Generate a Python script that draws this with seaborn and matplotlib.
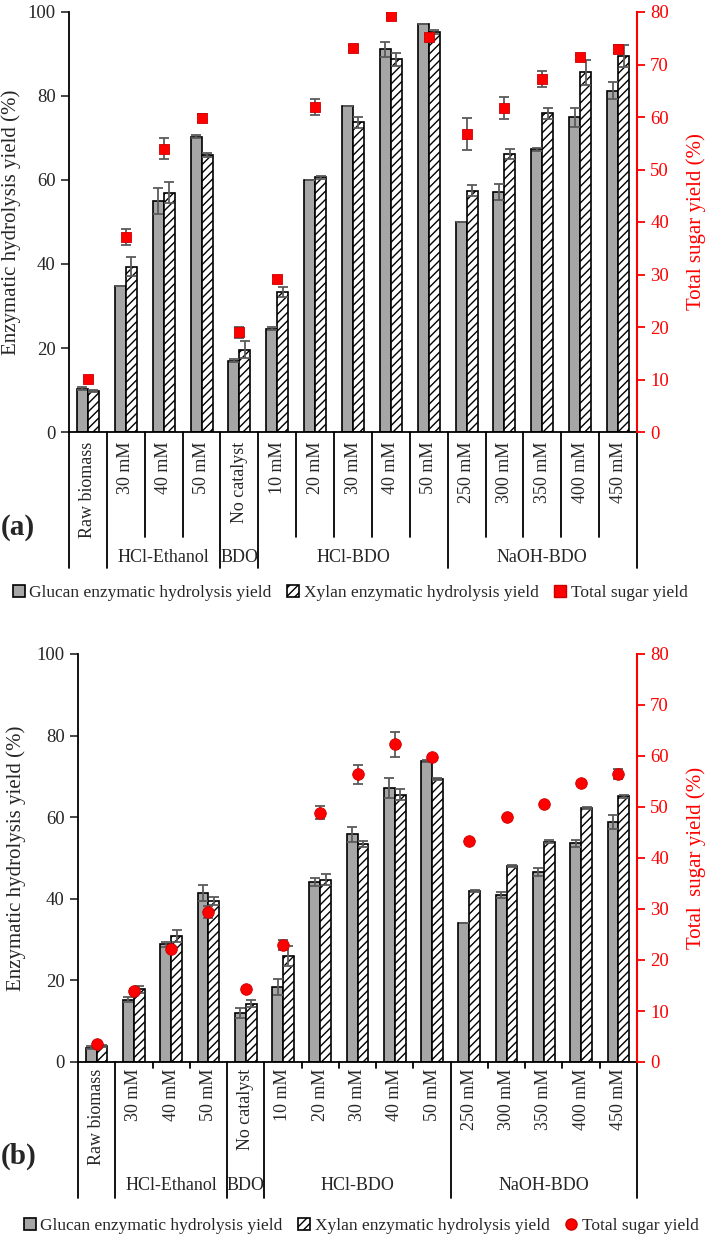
import numpy as np
import pandas as pd
import matplotlib
matplotlib.use("Agg")
import matplotlib.pyplot as plt
import seaborn as sns
from matplotlib.patches import Patch
from matplotlib.lines import Line2D

# categories and groups
categories = ["Raw biomass", "30 mM", "40 mM", "50 mM", "No catalyst",
              "10 mM", "20 mM", "30 mM", "40 mM", "50 mM",
              "250 mM", "300 mM", "350 mM", "400 mM", "450 mM"]
group_names = ["HCl-Ethanol", "BDO", "HCl-BDO", "NaOH-BDO"]
group_first = [1, 4, 5, 10]
group_last = [3, 4, 9, 14]

# panel (a)
glucan_a = [10.3, 34.8, 55.0, 70.3, 17.0, 24.6, 60.0, 77.6, 91.1, 97.1, 50.0, 57.1, 67.3, 74.9, 81.3]
glucan_a_err = [0.3, 0.0, 3.2, 0.3, 0.3, 0.3, 0.0, 0.0, 1.8, 0.0, 0.0, 1.9, 0.3, 2.2, 2.1]
xylan_a = [9.8, 39.4, 57.0, 66.0, 19.6, 33.4, 60.6, 73.7, 88.7, 95.2, 57.5, 66.2, 75.9, 85.6, 89.6]
xylan_a_err = [0.3, 2.3, 2.5, 0.5, 2.0, 1.2, 0.3, 1.3, 1.5, 0.5, 1.4, 1.2, 1.3, 3.0, 2.6]
sugar_a = [10.1, 37.2, 54.0, 59.8, 19.0, 29.1, 61.9, 73.1, 79.3, 75.3, 56.8, 61.7, 67.3, 71.4, 72.9]
sugar_a_err = [0.3, 1.5, 2.0, 0.8, 1.0, 0.7, 1.5, 0.5, 0.5, 0.5, 3.1, 2.1, 1.5, 0.5, 0.8]

# panel (b)
glucan_b = [3.5, 15.3, 28.8, 41.5, 12.1, 18.4, 44.1, 55.8, 67.1, 73.8, 34.1, 40.9, 46.6, 53.6, 58.9]
glucan_b_err = [0.3, 0.6, 0.7, 2.0, 1.2, 2.0, 1.0, 1.8, 2.4, 0.3, 0.0, 0.8, 1.0, 0.9, 1.7]
xylan_b = [3.9, 17.8, 30.9, 39.4, 14.3, 26.0, 44.7, 53.4, 65.5, 69.3, 41.9, 48.1, 54.0, 62.2, 65.1]
xylan_b_err = [0.3, 0.8, 1.5, 1.0, 0.8, 2.4, 1.3, 0.8, 1.3, 0.3, 0.3, 0.3, 0.3, 0.3, 0.3]
sugar_b = [3.6, 13.9, 22.1, 29.4, 14.4, 23.0, 48.9, 56.4, 62.3, 59.8, 43.4, 48.0, 50.5, 54.8, 56.5]
sugar_b_err = [0.3, 0.5, 0.5, 1.2, 0.3, 1.0, 1.2, 1.8, 2.4, 0.3, 0.3, 0.3, 0.3, 0.3, 1.0]

kinds = ["Glucan enzymatic hydrolysis yield", "Xylan enzymatic hydrolysis yield"]
sugar_label = "Total sugar yield"

sns.set_style("ticks")
plt.rcParams["font.family"] = ["Liberation Serif", "DejaVu Serif"]
plt.rcParams["hatch.linewidth"] = 1.0

GRAY = "#a6a6a6"
ERR = "#5a5a5a"
RED = "#ff0000"

fig = plt.figure(figsize=(7.09, 12.36), dpi=100)


def draw_panel(rect, glucan, glucan_err, xylan, xylan_err, sugar, sugar_err,
               marker, msize, right_label, inner_len, outer_len, group_y,
               ylab_x, yrlab_x, xpad):
    ax = fig.add_axes(rect)
    n = len(categories)
    df = pd.DataFrame({
        "pos": list(range(n)) * 2,
        "value": glucan + xylan,
        "kind": [kinds[0]] * n + [kinds[1]] * n,
    })
    sns.barplot(data=df, x="pos", y="value", hue="kind", hue_order=kinds,
                palette=[GRAY, "white"], edgecolor="black", linewidth=1.2,
                width=0.58, gap=0, errorbar=None, legend=False, ax=ax)
    for bar in ax.containers[1]:
        bar.set_hatch("////")

    # error bars on the bars
    for cont, vals, errs in [(ax.containers[0], glucan, glucan_err),
                             (ax.containers[1], xylan, xylan_err)]:
        xs = [b.get_x() + b.get_width() / 2 for b in cont]
        ax.errorbar(xs, vals, yerr=errs, fmt="none", ecolor=ERR,
                    elinewidth=1.3, capsize=3.5, capthick=1.3, zorder=5)

    ax.set_ylim(0, 100)
    ax.set_yticks(range(0, 101, 20))
    ax.set_xlim(-0.5, n - 0.5)
    ax.set_xticks(range(n))
    ax.set_xticklabels(categories, rotation=90, va="top", ha="center", fontsize=13)
    ax.tick_params(axis="x", length=0, pad=xpad)
    ax.tick_params(axis="y", labelsize=13.5, length=6, width=1.2, direction="out")
    ax.set_xlabel("")
    ax.set_ylabel("Enzymatic hydrolysis yield (%)", fontsize=15)
    ax.yaxis.set_label_coords(ylab_x, 0.5)
    for side in ["top", "right"]:
        ax.spines[side].set_visible(False)
    for side in ["left", "bottom"]:
        ax.spines[side].set_linewidth(1.3)
        ax.spines[side].set_color("black")

    # total sugar on the right axis
    ax2 = ax.twinx()
    xpos = np.arange(n)
    ax2.errorbar(xpos, sugar, yerr=sugar_err, fmt="none", ecolor=ERR,
                 elinewidth=1.3, capsize=3.5, capthick=1.3, zorder=2)
    sns.scatterplot(x=xpos, y=sugar, marker=marker, s=msize, color=RED,
                    edgecolor="#cc0000", linewidth=0.6, zorder=3,
                    legend=False, ax=ax2)
    ax2.set_ylim(0, 80)
    ax2.set_yticks(range(0, 81, 10))
    ax2.set_xlim(-0.5, n - 0.5)
    ax2.tick_params(axis="y", colors=RED, labelcolor=RED, labelsize=13.5,
                    length=6, width=1.3)
    ax2.set_ylabel(right_label, color=RED, fontsize=15, rotation=90)
    ax2.yaxis.set_label_coords(yrlab_x, 0.5)
    for side in ["top", "left", "bottom"]:
        ax2.spines[side].set_visible(False)
    ax2.spines["right"].set_color(RED)
    ax2.spines["right"].set_linewidth(1.5)

    # category separators below the axis
    trans = ax.get_xaxis_transform()
    outer = [-0.5, 0.5, 3.5, 4.5, 9.5, 14.5]
    for i in range(n + 1):
        xb = i - 0.5
        length = outer_len if xb in outer else inner_len
        ax.plot([xb, xb], [0, -length], color="black", lw=1.3,
                transform=trans, clip_on=False)

    # group labels
    for name, a, b in zip(group_names, group_first, group_last):
        ax.text((a + b) / 2, group_y, name, transform=trans, ha="center",
                va="center", fontsize=13)
    return ax


# panel (a)
draw_panel([69 / 709, 1 - 432 / 1236, 568 / 709, 420 / 1236],
           glucan_a, glucan_a_err, xylan_a, xylan_a_err, sugar_a, sugar_a_err,
           "s", 48, "Total sugar yield (%)", 105 / 420, 136 / 420,
           -125 / 420, -0.085, 1.086, 7)

# panel (b)
draw_panel([78 / 709, 1 - 1062 / 1236, 559 / 709, 408 / 1236],
           glucan_b, glucan_b_err, xylan_b, xylan_b_err, sugar_b, sugar_b_err,
           "o", 70, "Total  sugar yield (%)", 6 / 408, 136 / 408,
           -124 / 408, -0.093, 1.088, 5)

fig.text(18 / 709, 1 - 527 / 1236, "(a)", fontsize=21, fontweight="bold",
         ha="center", va="center")
fig.text(19 / 709, 1 - 1156 / 1236, "(b)", fontsize=21, fontweight="bold",
         ha="center", va="center")

# legends
for mk, ly, lx in [("s", 1 - 593 / 1236, 350 / 709), ("o", 1 - 1226 / 1236, 361 / 709)]:
    handles = [
        Patch(facecolor=GRAY, edgecolor="black", linewidth=1.2),
        Patch(facecolor="white", edgecolor="black", hatch="////", linewidth=1.2),
        Line2D([], [], marker=mk, color=RED, markeredgecolor="#cc0000",
               linestyle="none", markersize=8),
    ]
    fig.legend(handles, kinds + [sugar_label], loc="center", ncol=3,
               bbox_to_anchor=(lx, ly), frameon=False, fontsize=12.5,
               handlelength=0.7, handleheight=0.7, handletextpad=0.25,
               columnspacing=0.9, borderpad=0)

fig.savefig("out.png", dpi=100)
